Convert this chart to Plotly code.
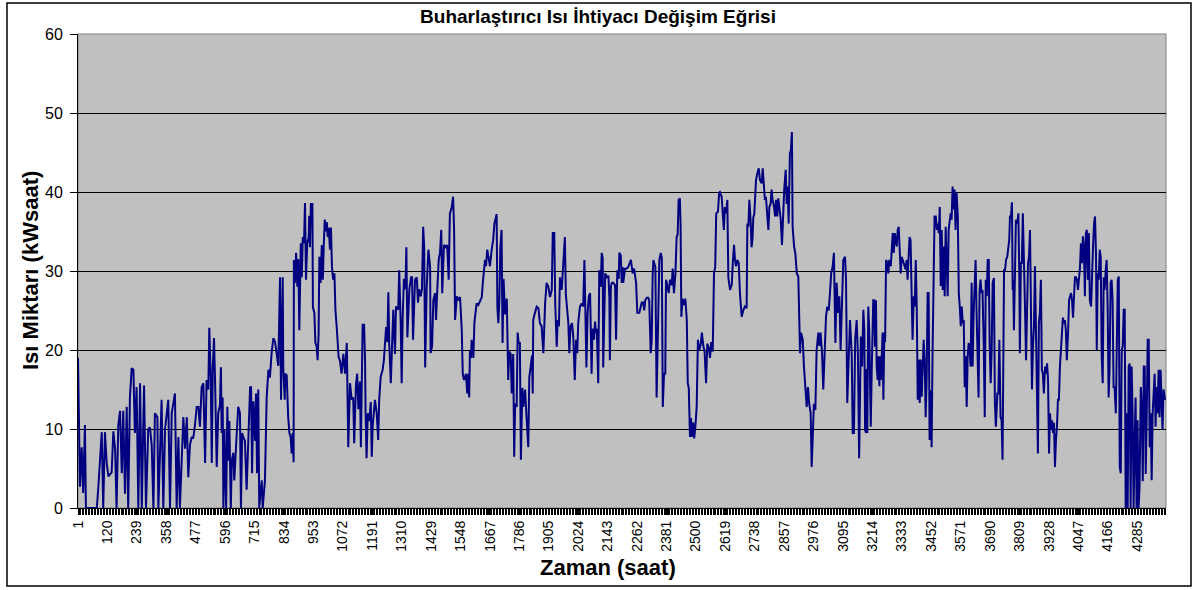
import plotly.graph_objects as go

# ---------------- data (hour index -> heat demand, kWh) ----------------
hours_a = [1, 9, 16, 22, 29, 33, 77, 83, 97, 103, 110, 117, 124, 137, 144, 151, 157, 164, 171, 178,
           184, 191, 198, 204, 211, 218, 225, 231, 238, 245, 252, 259, 268, 276, 285, 292, 299, 306, 312, 322,
           326, 333, 339, 346, 353, 366, 373, 380, 393, 400, 407, 413, 427, 434, 441, 447, 454, 461, 467, 474,
           481, 488, 494, 501]
heat_a = [19, 2.7, 7.7, 1.9, 10.5, 0, 0, 2.5, 9.6, 0, 9.6, 5.7, 4, 4.5, 9.7, 7.5, 0, 10.5, 12.3, 4.4,
          12.3, 1.8, 12.8, 0, 14, 17.7, 17.5, 9.5, 15.3, 0, 15.8, 0, 15.5, 0, 10, 10.2, 8, 0, 12, 11.5,
          0, 9, 13.7, 0, 10, 13.7, 0, 12, 14.5, 0, 9, 0, 11.5, 7.5, 11.5, 3.9, 8, 9, 8.8, 10.5,
          12.8, 12.8, 10.3, 15.3]

hours_b = [508, 515, 521, 528, 532, 538, 542, 546, 551, 555, 562, 568, 575, 579, 582, 586, 589, 593, 600, 605,
           609, 613, 619, 623, 629, 633, 636, 643, 649, 656, 660, 665, 669, 676, 683, 690, 697, 701, 705, 710,
           717, 721, 725, 730, 734, 744, 748, 757, 764, 771, 777, 784, 791, 798, 805, 811, 818, 822, 829, 831,
           837, 839, 845, 848, 851, 856, 861, 865, 869, 873, 874, 878, 883, 888, 892, 896, 902, 906, 910, 915,
           919, 923, 928, 934, 936, 939, 943, 946, 949, 951, 957, 961, 966, 970, 974, 977, 982, 987, 991, 995,
           999, 1003, 1007, 1011, 1015, 1020, 1024, 1028, 1033, 1038, 1042, 1047, 1051, 1055, 1060]
heat_b = [15.8, 5.7, 16.2, 15, 22.8, 16.2, 5.7, 17.8, 21.5, 16.5, 5.2, 12, 13, 17.8, 9.5, 14, 0, 10, 0, 12.8,
          6, 11, 0, 6, 7, 3.5, 6, 9.5, 12.8, 12, 0, 9.5, 9, 8.5, 2.3, 9.5, 15.3, 15.3, 4.4, 13.5,
          8.5, 14.5, 4.4, 15, 0, 3.5, 0, 3.5, 14, 17.5, 16.5, 19.6, 21.5, 21, 19.6, 18, 29.2, 13.7, 29.2, 17.8,
          13.7, 17, 16.8, 12, 11.5, 9.5, 9, 6.9, 9.5, 5.8, 31.4, 28.5, 32.3, 28, 31.5, 22.5, 33.5, 29.2, 34.3, 33.5,
          38.6, 28.9, 33.5, 34.3, 37, 33, 38.6, 37, 38.6, 25.4, 24.7, 20.9, 20.5, 18.7, 22, 31.8, 28.5, 33.3, 28.9, 33.3,
          36.5, 35, 36.2, 34.3, 35.5, 32.7, 35.5, 30.5, 28.9, 29.7, 25.1, 23, 21.3, 19.1, 18.7]

hours_c = [1067, 1074, 1081, 1088, 1090, 1094, 1101, 1108, 1114, 1118, 1125, 1130, 1135, 1141, 1145, 1149, 1152, 1158, 1162, 1164,
           1168, 1173, 1179, 1185, 1189, 1193, 1198, 1202, 1209, 1215, 1219, 1225, 1233, 1238, 1247, 1252, 1256, 1260, 1266, 1270,
           1276, 1283, 1287, 1296, 1300, 1306, 1310, 1314, 1319, 1325, 1329, 1333, 1337, 1341, 1348, 1352, 1356, 1360, 1364, 1371,
           1376, 1381, 1387, 1392, 1397, 1401, 1405, 1411, 1418, 1425, 1427, 1433, 1438, 1445, 1449, 1454, 1460, 1465, 1470, 1474,
           1481, 1489, 1494, 1500, 1505, 1512, 1518, 1522, 1526, 1533, 1539]
heat_c = [17, 19.5, 17, 20.9, 15.8, 7.7, 15.8, 13.7, 14, 8.2, 15.5, 17, 12.5, 16, 7.7, 17, 23.2, 23.2, 18.5, 12,
          6.3, 12, 11, 13.4, 6.5, 10.5, 12, 13.7, 12, 8.6, 13.7, 16.6, 17.5, 18.7, 22.9, 21, 27.3, 20.5, 15.8, 20.5,
          25.1, 19.5, 25.5, 25.1, 30.1, 23.5, 15.8, 24, 29, 27.7, 33, 21.6, 24.5, 27.7, 29.2, 29.2, 21.3, 26.8, 28.9, 29.2,
          26, 27.7, 26.8, 27.7, 35.6, 33, 17.8, 27.7, 32.7, 30.5, 19.6, 20.5, 26.3, 27.2, 23.8, 27.7, 31.5, 32.3, 35.2, 27.2,
          33.3, 33, 33.3, 28.9, 37.3, 38, 39.4, 35.2, 23.8, 26.8, 26.3]

hours_d = [1546, 1553, 1557, 1562, 1570, 1575, 1579, 1583, 1586, 1590, 1593, 1600, 1604, 1609, 1613, 1620, 1627, 1634, 1638, 1643,
           1647, 1651, 1656, 1663, 1667, 1674, 1680, 1685, 1690, 1694, 1697, 1701, 1705, 1709, 1714, 1718, 1722, 1728, 1735, 1741,
           1745, 1751, 1755, 1761, 1765, 1769, 1775, 1779, 1783, 1788, 1792, 1798, 1802, 1809, 1815, 1822, 1826, 1832, 1837, 1840,
           1842, 1849, 1856, 1863, 1869, 1876, 1883, 1890, 1896, 1903, 1910, 1917, 1921, 1927, 1931, 1937, 1941, 1946, 1950, 1957,
           1964, 1970, 1974, 1980, 1984, 1988, 1993, 1999, 2004, 2010, 2015, 2020, 2024, 2031, 2038, 2044, 2049, 2053, 2057, 2062,
           2067]
heat_d = [26.7, 22.5, 17, 16.2, 17, 14.5, 17, 14, 20, 19, 21.3, 19, 23.4, 24.7, 25.9, 25.7, 26.3, 26.7, 28.5, 29.7,
          31.4, 30.6, 32.7, 31.4, 30.6, 32.7, 33.9, 36, 36.9, 37.2, 25.4, 23.4, 26.3, 33, 35.2, 20.9, 29, 24.5, 26.5, 16.2,
          19.8, 19.5, 14.5, 19.5, 6.5, 13.2, 12.8, 22.2, 20.9, 20.9, 6.1, 15.2, 12.8, 15, 11.5, 7.7, 16.5, 18, 19.3, 14.5,
          23.8, 24.7, 25.5, 25.3, 23.4, 23, 19.6, 25.9, 28.5, 28, 26.7, 27.6, 34.8, 34.8, 25.9, 20.4, 23.8, 23, 29.2, 27.6,
          31.4, 34.3, 27, 25.3, 23.4, 19.6, 23, 23.4, 21.7, 16.2, 21.3, 19.6, 23.4, 25.5, 25.9, 25.5, 31.4, 24.7, 17.8, 24.7,
          26.8]

hours_e = [2072, 2078, 2082, 2088, 2092, 2096, 2099, 2105, 2109, 2115, 2119, 2123, 2125, 2129, 2133, 2139, 2146, 2150, 2152, 2156,
           2160, 2166, 2173, 2177, 2182, 2188, 2190, 2196, 2200, 2204, 2206, 2213, 2220, 2226, 2233, 2237, 2244, 2250, 2254, 2258,
           2263, 2271, 2277, 2281, 2287, 2291, 2295, 2301, 2307, 2311, 2317, 2321, 2325, 2328, 2332, 2336, 2341, 2347, 2352, 2358,
           2362, 2366, 2371, 2376, 2379, 2384, 2390, 2395, 2402, 2406, 2411, 2417, 2422, 2426, 2430, 2435, 2438, 2441, 2446, 2452,
           2457, 2463, 2467, 2471, 2476, 2480, 2484, 2489, 2493, 2497, 2503, 2508, 2514, 2520, 2524, 2530, 2535, 2541, 2546, 2552,
           2557, 2562, 2568, 2573, 2578, 2582, 2589, 2594]
heat_e = [27.2, 17, 22.7, 21.3, 23.6, 22.2, 22.7, 15.8, 30.1, 28, 32.3, 31.6, 17.8, 26.5, 29.7, 29.2, 29.4, 26.6, 18.7, 28,
          28.5, 28.5, 28.2, 21.3, 30.1, 29, 32.3, 32, 28.5, 30.5, 28.5, 30.3, 30.3, 30.5, 31, 31.4, 29.7, 30.3, 29.4, 28.5,
          24.7, 24.7, 25.5, 26, 26, 25, 26.3, 26.6, 26.6, 26.3, 19.6, 21.1, 29.4, 31.4, 30.9, 30.5, 14, 26, 31.4, 32.3,
          31.6, 12.8, 17, 17, 28.9, 28.2, 27.2, 28.9, 28.2, 30.3, 27.2, 29.7, 34.3, 34.6, 39, 39.2, 35.6, 24.2, 26.5, 25.7,
          26.5, 23.8, 15.8, 15.2, 9, 11.4, 9, 10.8, 8.8, 10, 12.8, 21.3, 20, 20.8, 22.2, 20.5, 19.8, 15.8, 20.8, 20.3,
          19, 21, 19.8, 29.7, 30.5, 37.3, 37.5, 39.9]

hours_f = [2597, 2604, 2608, 2613, 2617, 2622, 2627, 2631, 2638, 2645, 2649, 2654, 2658, 2662, 2667, 2673, 2678, 2682, 2685, 2691,
           2698, 2705, 2708, 2712, 2716, 2721, 2725, 2729, 2732, 2736, 2740, 2743, 2748, 2754, 2759, 2766, 2770, 2774, 2779, 2783,
           2789, 2793, 2797, 2802, 2806, 2810, 2816, 2820, 2824, 2829, 2833, 2837, 2843, 2848, 2853, 2857, 2863, 2867, 2871, 2875,
           2880, 2884, 2888, 2891, 2897, 2902, 2908, 2914, 2918, 2921, 2925, 2932, 2937, 2942, 2948, 2953, 2958, 2964, 2968, 2972,
           2977, 2983, 2988, 2995, 2999, 3004, 3010, 3015, 3021, 3026, 3031, 3037, 3042, 3047, 3053, 3058, 3064, 3069, 3075, 3080,
           3085, 3091, 3096, 3103, 3107, 3112, 3118, 3123, 3130, 3134, 3139, 3144, 3150, 3155, 3160]
heat_f = [40, 39.4, 37.3, 35.2, 38.1, 37.3, 39, 29.2, 27.6, 28.3, 31, 33.3, 31.4, 30.6, 31.4, 31, 27.2, 25.5, 24.2, 25,
          25.5, 25.3, 36, 35.6, 39, 36.5, 33, 34.2, 36.8, 37.2, 39.8, 41.5, 42.3, 43, 41.5, 41.1, 43, 41.5, 39, 39.4,
          37.3, 35.2, 38.1, 38.5, 40.3, 39, 38.1, 36.9, 39, 36.9, 39.2, 38.1, 36.5, 33.3, 39, 40.3, 42.8, 38.5, 40.7, 36,
          44.9, 45.3, 47.6, 35.6, 33.1, 32.2, 29.7, 29.3, 23.8, 19.6, 22.2, 21.3, 17.8, 15.7, 12.8, 15.3, 13.2, 12, 5.2, 8.6,
          13.2, 12.4, 20, 22.2, 20.5, 22.2, 19.6, 15, 21.5, 24.2, 25.5, 25, 27.2, 29.7, 30.6, 32.3, 20.9, 28.5, 24.7, 26.8,
          20, 28.5, 31.4, 31.8, 28.9, 13.3, 20.5, 23.8, 19.6, 9.5, 9.5, 21.3, 23.8, 19.6, 6.3]

hours_g = [3163, 3167, 3172, 3174, 3177, 3181, 3184, 3188, 3190, 3193, 3197, 3201, 3204, 3207, 3211, 3215, 3217, 3221, 3224, 3228,
           3231, 3235, 3238, 3242, 3244, 3248, 3251, 3255, 3258, 3262, 3265, 3269, 3274, 3278, 3282, 3288, 3292, 3296, 3300, 3304,
           3308, 3312, 3316, 3320, 3324, 3328, 3332, 3336, 3340, 3344, 3348, 3352, 3356, 3360, 3364, 3368, 3372, 3376, 3381, 3385,
           3389, 3393, 3397, 3401, 3405, 3409, 3413, 3417, 3421, 3425, 3429, 3433, 3437, 3441, 3445, 3449, 3453, 3457, 3461, 3465,
           3470, 3474, 3478, 3482, 3486, 3490, 3494, 3498, 3502, 3506, 3510, 3514, 3518, 3522, 3526, 3530, 3534, 3538, 3542, 3546,
           3550, 3554, 3559, 3563, 3567, 3571, 3575, 3579, 3583, 3587, 3591, 3595, 3599, 3603, 3607, 3611, 3615, 3619, 3623, 3627,
           3631, 3635, 3639, 3643, 3647, 3651, 3655, 3659, 3664, 3668, 3672, 3676, 3680, 3684, 3688]
heat_g = [15.4, 21.7, 17.9, 25.1, 25.1, 22.5, 9.9, 9.5, 17.6, 9.5, 25.5, 22.3, 17.9, 10.3, 17.6, 25.9, 26.3, 26.3, 20.4, 26.3,
          17.9, 16.2, 19.2, 15.4, 19.2, 16.2, 19.2, 22.2, 13.7, 22.2, 21, 31.4, 31, 29.7, 31.4, 30.6, 32.7, 34.8, 32.3, 34.8,
          34, 33.1, 35.2, 35.6, 32.7, 29.7, 31.8, 31.4, 31, 30.6, 30.2, 31.4, 28.9, 31.8, 34.3, 33.9, 27.6, 21.3, 26.8, 25.5,
          31.4, 25.5, 13.7, 18.8, 13.3, 18.8, 14.1, 17.9, 21.3, 18.8, 11.5, 16.2, 27.2, 27.2, 8.6, 14.9, 7.7, 19.8, 26.6, 36.9,
          36.9, 35.2, 36, 34.8, 38.1, 28.1, 35.2, 27.6, 33.1, 26.8, 35.6, 30.6, 26.8, 35.2, 36, 37.3, 36.5, 40.7, 37.8, 40.3,
          35.2, 39.9, 37, 27.2, 25.5, 23, 25.5, 23.4, 23.8, 15.3, 19.2, 12.8, 19.2, 20.9, 20, 17.9, 28.5, 17.9, 24.5, 29.7,
          31.4, 24.7, 19.6, 14, 27.6, 28.9, 27.2, 27.6, 20.4, 11.5, 28.9, 26.8, 31.4, 31.4, 20.4]

hours_h = [3692, 3696, 3700, 3705, 3709, 3713, 3719, 3723, 3727, 3732, 3736, 3740, 3746, 3750, 3754, 3759, 3763, 3767, 3770, 3774,
           3778, 3781, 3783, 3786, 3790, 3794, 3800, 3804, 3808, 3810, 3814, 3818, 3822, 3827, 3831, 3835, 3839, 3843, 3847, 3851,
           3855, 3859, 3863, 3867, 3871, 3875, 3879, 3883, 3887, 3891, 3895, 3899, 3903, 3907, 3912, 3916, 3920, 3924, 3928, 3932,
           3936, 3940, 3944, 3948, 3952, 3956, 3960, 3964, 3968, 3972, 3976, 3980, 3984, 3988, 3992, 3996, 4000, 4005, 4009, 4013,
           4017, 4021, 4025, 4029, 4033, 4037, 4041, 4045, 4049, 4053, 4057, 4061, 4065, 4069, 4073, 4077, 4081, 4085, 4089, 4093,
           4098, 4102, 4106, 4110, 4114, 4118, 4121, 4125, 4129, 4133, 4137, 4141, 4145, 4149, 4153, 4157, 4161, 4165, 4169, 4173,
           4177, 4181, 4185, 4189, 4193, 4198, 4202, 4206, 4210, 4214, 4218, 4222, 4226, 4230, 4234, 4238, 4242, 4246, 4250, 4254,
           4258, 4262, 4266, 4270, 4274, 4278, 4282, 4286, 4290, 4294, 4299, 4303, 4307, 4311, 4315, 4319, 4323, 4327, 4331, 4335,
           4339, 4343, 4347, 4351, 4355, 4359, 4363, 4367, 4371, 4375, 4379, 4383, 4387, 4391, 4397]
heat_h = [15.8, 20, 28.5, 29.1, 13.3, 10.3, 14.5, 14.5, 21.3, 11.5, 11.1, 6.1, 30.1, 30.1, 31.4, 31.8, 32.7, 33.9, 36.9, 36.9,
          38.7, 27.6, 28.9, 22.5, 33.1, 36.5, 36, 37.3, 28.9, 19.6, 31, 31, 37.3, 27.2, 25.1, 18.7, 24.7, 31, 31.8, 35.2,
          24.7, 15, 20.5, 23, 30.6, 19.6, 15, 6.9, 23.4, 24.7, 28.9, 17.5, 17, 14.5, 17.9, 17, 18.3, 16.2, 6.9, 12,
          9.9, 11.1, 9.5, 10.8, 5.2, 8.6, 10.3, 13.7, 13.7, 17.9, 20.5, 22.9, 24.1, 23.4, 23.8, 22.5, 18.7, 22.2, 26.3, 26.8,
          27.2, 26.3, 24.1, 26.8, 29.2, 29.2, 28.9, 27.6, 29.2, 30.4, 33.5, 31, 34.4, 33.1, 26.8, 34.8, 35.2, 28.9, 34.8, 26.3,
          25.5, 31, 33.1, 36, 36.9, 32, 20, 29.7, 28.9, 32.7, 31.8, 19.2, 15.8, 29.2, 27.6, 30.1, 31.4, 25.5, 14, 17.9,
          28.5, 28.9, 26.3, 15.3, 15.3, 12, 21.3, 28.9, 29.3, 5.2, 4.4, 20, 20.5, 25.1, 25.1, 0, 12, 0, 17.9, 18.3,
          0, 17.9, 12, 0, 7.7, 14, 0, 11.1, 0, 2.6, 15.3, 12.8, 3.4, 17.9, 17.9, 4.3, 11.5, 21.3, 21.3, 7.7,
          12, 3.5, 12, 14, 17, 10.3, 15.3, 12, 17.5, 11.5, 17.5, 13.7, 9.9, 15, 13.7]

tick_hours = [1, 120, 239, 358, 477, 596, 715, 834, 953, 1072, 1191, 1310, 1429, 1548, 1667, 1786,
              1905, 2024, 2143, 2262, 2381, 2500, 2619, 2738, 2857, 2976, 3095, 3214, 3333, 3452,
              3571, 3690, 3809, 3928, 4047, 4166, 4285]
n_hours = 4401

title_text = "Buharlaştırıcı Isı İhtiyacı Değişim Eğrisi"
x_title = "Zaman (saat)"
y_title = "Isı Miktarı (kWsaat)"

# ---------------- assemble ----------------
segments = [(hours_a, heat_a), (hours_b, heat_b), (hours_c, heat_c), (hours_d, heat_d),
            (hours_e, heat_e), (hours_f, heat_f), (hours_g, heat_g), (hours_h, heat_h)]
hours, heat = [], []
for hs, vs in segments:
    assert len(hs) == len(vs), (len(hs), len(vs))
    hours += hs
    heat += vs

FONT = "Arial, 'Liberation Sans', Helvetica, sans-serif"

fig = go.Figure()
fig.add_trace(go.Scatter(x=hours, y=heat, mode="lines",
                         line=dict(color="#000080", width=2), hoverinfo="x+y"))

W, H = 1196, 590
L, R, T, B = 78, 30, 34, 82
pw, ph = W - L - R, H - T - B


def px_x(p):
    return (p - L) / pw


def px_y(p):
    return (H - B - p) / ph


fig.update_layout(
    width=W, height=H,
    margin=dict(l=L, r=R, t=T, b=B),
    paper_bgcolor="white", plot_bgcolor="#C0C0C0",
    showlegend=False,
    font=dict(family=FONT, color="black"),
    title=dict(text="<b>" + title_text + "</b>", x=0.5, xref="container", xanchor="center",
               y=1 - 16 / H, yref="container", yanchor="middle",
               font=dict(size=19, family=FONT, color="black")),
)

fig.update_xaxes(
    range=[1, n_hours], tickmode="array", tickvals=tick_hours,
    ticktext=[str(t) for t in tick_hours], tickangle=-90,
    tickfont=dict(size=14, family=FONT), ticks="outside", ticklen=6, tickcolor="black",
    showline=True, linecolor="black", linewidth=1, showgrid=False, zeroline=False,
    minor=dict(dtick=6, tick0=1, ticks="outside", ticklen=6, tickcolor="black", tickwidth=1, showgrid=False),
)
fig.update_yaxes(
    range=[0, 60], dtick=10, tick0=0, ticks="outside", ticklen=7, tickcolor="black",
    tickfont=dict(size=16, family=FONT), showline=True, linecolor="black", linewidth=1,
    showgrid=True, gridcolor="black", gridwidth=1, zeroline=False, ticklabelstandoff=4,
)

# plot-area border (gray) and outer chart border (black)
fig.add_shape(type="rect", xref="paper", yref="paper", x0=0, y0=0, x1=1, y1=1,
              line=dict(color="#808080", width=1), layer="below")
fig.add_shape(type="rect", xref="paper", yref="paper",
              x0=px_x(7), x1=px_x(1191), y0=px_y(3), y1=px_y(586),
              line=dict(color="black", width=1.5))

fig.add_annotation(text="<b>" + x_title + "</b>", xref="paper", yref="paper",
                   x=px_x(608), y=px_y(567), showarrow=False, xanchor="center", yanchor="middle",
                   font=dict(size=22, family=FONT, color="black"))
fig.add_annotation(text="<b>" + y_title + "</b>", xref="paper", yref="paper",
                   x=px_x(30), y=px_y(271), showarrow=False, textangle=-90,
                   xanchor="center", yanchor="middle",
                   font=dict(size=22, family=FONT, color="black"))

fig.write_html("out.html", config={"displayModeBar": False},
               post_script="document.body.style.margin='0px';document.body.style.overflow='hidden';")
